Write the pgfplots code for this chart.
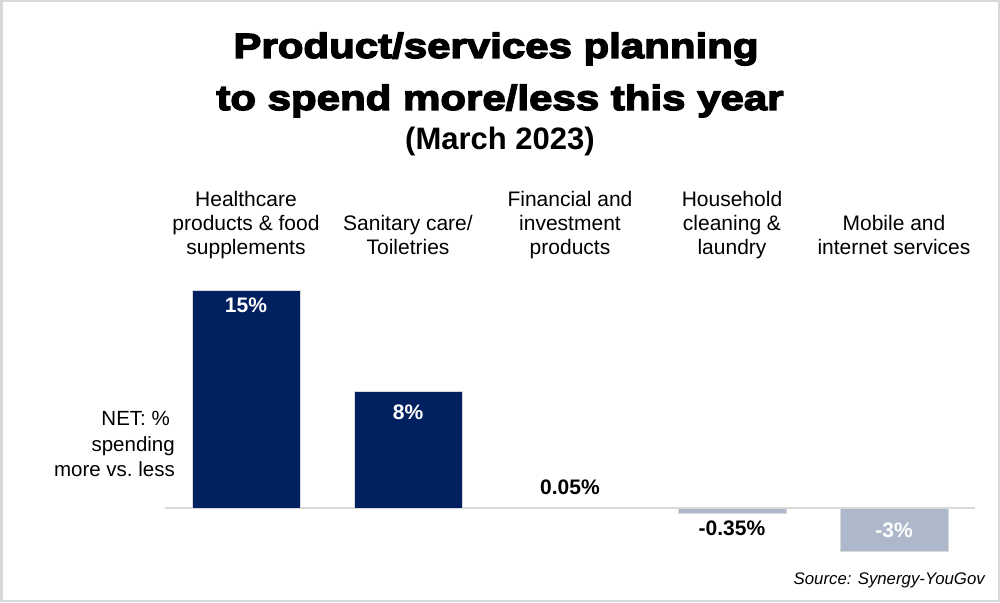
\documentclass[border=0pt]{standalone}
\usepackage{pgfplots}
\pgfplotsset{compat=1.18}
\usepackage{fontspec}
\setmainfont{Liberation Sans}
\newfontfamily\blackfont[FakeStretch=1.2,FakeBold=4]{Liberation Sans Bold}
\definecolor{navy}{HTML}{002060}
\definecolor{lightbar}{HTML}{ADB9CA}
\definecolor{edge}{HTML}{D9D9D9}
\begin{document}
\begin{tikzpicture}[x=1pt,y=1pt]
\path[use as bounding box] (0,0) rectangle (1000,602);
\draw[edge, line width=2.5pt] (1.25,1.25) rectangle (998.75,600.75);
\node[anchor=base, inner sep=0pt, font=\blackfont\fontsize{35}{40}\selectfont] at (496,544) {Product/services planning};
\node[anchor=base, inner sep=0pt, font=\blackfont\fontsize{35}{40}\selectfont] at (500,492) {to spend more/less this year};
\node[anchor=base, inner sep=0pt, font=\bfseries\fontsize{31}{36}\selectfont] at (500,452) {(March 2023)};
\begin{axis}[
  at={(165pt,43.1pt)}, anchor=south west,
  scale only axis, width=810pt, height=292.85pt,
  xmin=-0.5, xmax=4.5, ymin=-3.5, ymax=16.655,
  axis line style={draw=none}, tick style={draw=none},
  ytick=\empty,
  xtick={0,1,2,3,4},
  xticklabels={{Healthcare\strut\\products \& food\strut\\supplements\strut},
               {Sanitary care/\strut\\Toiletries\strut},
               {Financial and\strut\\investment\strut\\products\strut},
               {Household\strut\\cleaning \&\strut\\laundry\strut},
               {Mobile and\strut\\internet services\strut}},
  xticklabel pos=upper,
  xticklabel style={anchor=south, align=center, inner sep=0pt, font=\fontsize{21}{24}\selectfont},
  extra y ticks={0}, extra y tick labels={},
  extra y tick style={grid=major, major grid style={edge, line width=1.5pt}},
  ybar, bar width=108pt, bar shift=0pt,
  clip=false,
]
\addplot[fill=navy, draw=edge, line width=0.8pt] coordinates {(0,15) (1,8) (2,0.05)};
\addplot[fill=lightbar, draw=edge, line width=0.8pt] coordinates {(3,-0.35) (4,-3)};
\node[anchor=base, text=white, font=\bfseries\fontsize{21}{24}\selectfont] at (axis cs:0,13.49) {15\%};
\node[anchor=base, text=white, font=\bfseries\fontsize{21}{24}\selectfont] at (axis cs:1,6.125) {8\%};
\node[anchor=base, text=black, font=\bfseries\fontsize{21}{24}\selectfont] at (axis cs:2,0.93) {0.05\%};
\node[anchor=base, text=black, font=\bfseries\fontsize{21}{24}\selectfont] at (axis cs:3,-1.858) {-0.35\%};
\node[anchor=base, text=white, font=\bfseries\fontsize{21}{24}\selectfont] at (axis cs:4,-1.996) {-3\%};
\end{axis}
\node[anchor=north east, align=right, inner sep=0pt, font=\fontsize{20.5}{25.5}\selectfont] at (175,194.3) {NET: \%\hspace*{5pt}\strut\\spending\strut\\more vs.\ less\strut};
\node[anchor=base east, inner sep=0pt, font=\itshape\fontsize{16.8}{20}\selectfont] at (985,18) {Source: Synergy-YouGov};
\end{tikzpicture}
\end{document}
